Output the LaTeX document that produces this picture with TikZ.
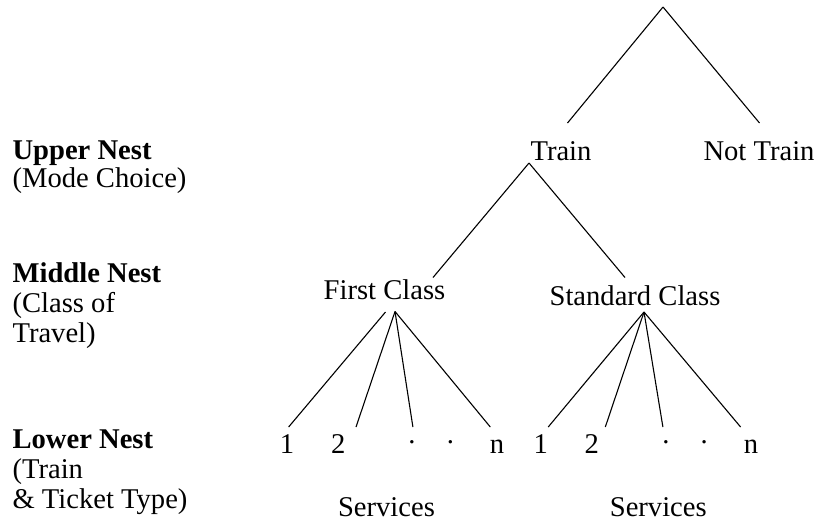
\documentclass[tikz,border=0pt]{standalone}
\usepackage{fontspec}
\setmainfont{Liberation Serif}
\tikzset{
	lbl/.style={anchor=base, inner sep=0pt},
	nest/.style={anchor=base west, inner sep=0pt, align=left},
}

\begin{document}
\begin{tikzpicture}[x=0.5pt, y=-0.5pt, font=\fontsize{14.3}{15}\selectfont, line width=0.55pt]
\useasboundingbox (0,0) rectangle (817,527);

% nest labels on the left (base = last line)
\node[nest] (upper) at (12,187) {\textbf{Upper Nest}\\[-1pt](Mode Choice)};
\node[nest] (middle) at (12,342) {\textbf{Middle Nest}\\(Class of\\Travel)};
\node[nest] (lower) at (12,508) {\textbf{Lower Nest}\\(Train\\\& Ticket Type)};

% upper nest
\coordinate (root) at (663,7);
\node[lbl] (train) at (561,160) {Train};
\node[lbl] (nottrain) at (759,160) {Not Train};
\coordinate (train in) at (567.5,123);
\coordinate (nottrain in) at (759.5,123);
\coordinate (train out) at (529,163);

% middle nest
\node[lbl] (first) at (384.5,299.5) {First Class};
\node[lbl] (std) at (635,305) {Standard Class};
\coordinate (first in) at (433,277.5);
\coordinate (std in) at (625,277.5);
\coordinate (first out) at (385.5,312);
\coordinate (first out2) at (395,311.5);
\coordinate (std out) at (644,312);

% lower nest, first class
\node[lbl] (f1) at (287,453) {1};
\node[lbl] (f2) at (338.3,453) {2};
\node[lbl] (fd1) at (412,443.5) {.};
\node[lbl] (fd2) at (450.5,443.5) {.};
\node[lbl] (fn) at (497,453) {n};
\coordinate (f1 in) at (288.6,427);
\coordinate (f2 in) at (356,427);
\coordinate (f3 in) at (412.9,427);
\coordinate (f4 in) at (490.3,427);
\node[lbl] (fserv) at (386.5,516) {Services};

% lower nest, standard class
\node[lbl] (s1) at (540.8,453) {1};
\node[lbl] (s2) at (591.7,453) {2};
\node[lbl] (sd1) at (666,443.5) {.};
\node[lbl] (sd2) at (704.3,443.5) {.};
\node[lbl] (sn) at (751,453) {n};
\coordinate (s1 in) at (548.2,427);
\coordinate (s2 in) at (605.3,427);
\coordinate (s3 in) at (662.9,427);
\coordinate (s4 in) at (740.6,427);
\node[lbl] (sserv) at (658.3,516) {Services};

\draw (root) -- (train in);
\draw (root) -- (nottrain in);
\draw (train out) -- (first in);
\draw (train out) -- (std in);

\draw (first out) -- (f1 in);
\draw (first out2) -- (f2 in);
\draw (first out2) -- (f3 in);
\draw (first out2) -- (f4 in);

\draw (std out) -- (s1 in);
\draw (std out) -- (s2 in);
\draw (std out) -- (s3 in);
\draw (std out) -- (s4 in);
\end{tikzpicture}
\end{document}
